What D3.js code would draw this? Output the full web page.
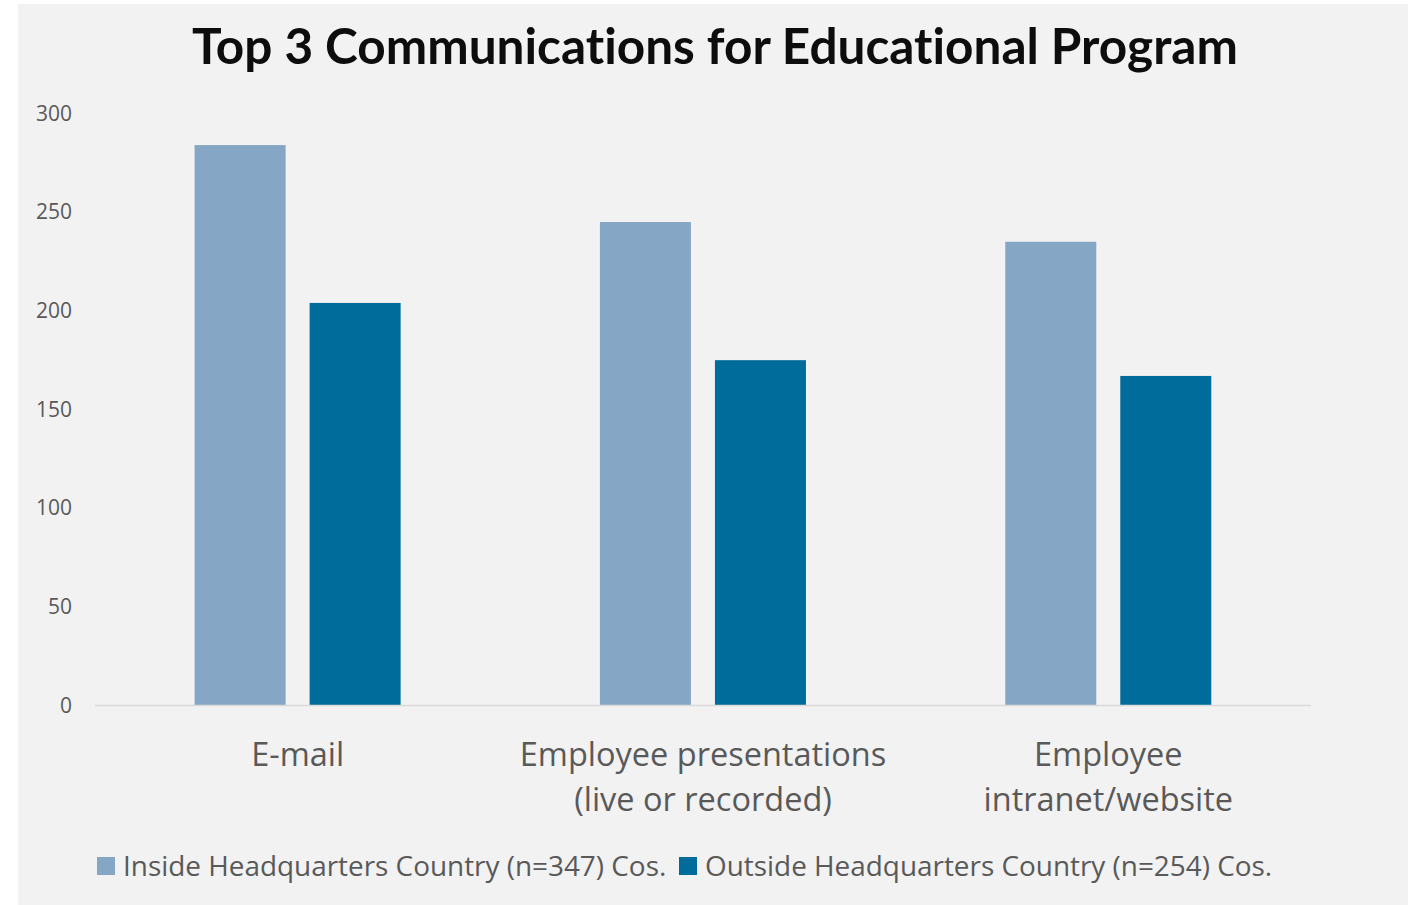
<!DOCTYPE html>
<html>
<head>
<meta charset="utf-8">
<script src="https://cdn.jsdelivr.net/npm/d3@7/dist/d3.min.js"></script>
<style>
  html, body { margin: 0; padding: 0; background: #ffffff; }
  svg { display: block; }
  text { font-variant-ligatures: none; }
</style>
</head>
<body>
<svg id="chart" width="1408" height="905"></svg>
<script>
// Communication channels (category axis), split into display lines
const categories = ["E-mail", "Employee presentations (live or recorded)", "Employee intranet/website"];
const categoryLines = [["E-mail"], ["Employee presentations", "(live or recorded)"], ["Employee", "intranet/website"]];

// Series
const seriesNames = ["Inside Headquarters Country (n=347) Cos.", "Outside Headquarters Country (n=254) Cos."];
const insideValues = [284, 245, 235];
const outsideValues = [204, 175, 167];

// Value axis ticks
const yTicks = [0, 50, 100, 150, 200, 250, 300];

const title = "Top 3 Communications for Educational Program";
const colors = ["#85a7c5", "#006c9b"];

const svg = d3.select("#chart");
const W = 1408, H = 905;

// Chart area panel
svg.append("rect").attr("x", 18).attr("y", 4).attr("width", W - 18).attr("height", H - 4)
  .attr("fill", "#f2f2f2");

const plot = { left: 95, right: 1311, top: 113.5, bottom: 705.5 };

const x0 = d3.scaleBand().domain(categories).range([plot.left, plot.right]).paddingInner(0).paddingOuter(0);
const bw = x0.bandwidth();
const x1 = d3.scaleBand().domain(seriesNames).range([bw * 0.2457, bw * 0.754]).paddingInner(0.2087).paddingOuter(0);
const y = d3.scaleLinear().domain([0, 300]).range([plot.bottom, plot.top]);

const rows = categories.map((c, i) => ({ cat: c, vals: [insideValues[i], outsideValues[i]] }));

// Bars
const groups = svg.append("g").selectAll("g").data(rows).join("g")
  .attr("transform", d => `translate(${x0(d.cat)},0)`);
groups.selectAll("rect")
  .data(d => d.vals.map((v, j) => ({ name: seriesNames[j], v, j })))
  .join("rect")
  .attr("x", d => x1(d.name))
  .attr("width", x1.bandwidth())
  .attr("y", d => y(d.v))
  .attr("height", d => y(0) - y(d.v))
  .attr("fill", d => colors[d.j]);

// Baseline
svg.append("line")
  .attr("x1", plot.left).attr("x2", plot.right)
  .attr("y1", y(0)).attr("y2", y(0))
  .attr("stroke", "#d9d9d9").attr("stroke-width", 1.5);

// Value axis labels
const yAxis = svg.append("g").attr("transform", `translate(${plot.left},0)`)
  .call(d3.axisLeft(y).tickValues(yTicks).tickSize(0).tickPadding(23));
yAxis.select(".domain").remove();
yAxis.selectAll("text")
  .attr("font-family", "'Open Sans', sans-serif")
  .attr("font-size", 21)
  .attr("fill", "#595959");

// Category labels
const catG = svg.append("g");
categoryLines.forEach((lines, i) => {
  const cx = x0(categories[i]) + bw / 2;
  const t = catG.append("text")
    .attr("x", cx).attr("y", 765.5)
    .attr("text-anchor", "middle")
    .attr("font-family", "'Open Sans', sans-serif")
    .attr("font-size", 32.5)
    .attr("fill", "#595959");
  lines.forEach((ln, k) => {
    t.append("tspan").attr("x", cx).attr("y", 765.5 + k * 45).text(ln);
  });
});

// Title
svg.append("text")
  .attr("x", 715).attr("y", 64)
  .attr("text-anchor", "middle")
  .attr("font-family", "Lato, 'Open Sans', sans-serif")
  .attr("font-weight", "bold")
  .attr("font-size", 49.5)
  .attr("fill", "#0d0d0d")
  .text(title);

// Legend
const legendItems = [
  { name: seriesNames[0], sx: 97, tx: 123 },
  { name: seriesNames[1], sx: 679, tx: 705 }
];
const lg = svg.append("g");
legendItems.forEach((d, i) => {
  lg.append("rect").attr("x", d.sx).attr("y", 857).attr("width", 18).attr("height", 18)
    .attr("fill", colors[i]);
  lg.append("text").attr("x", d.tx).attr("y", 876)
    .attr("font-family", "'Open Sans', sans-serif")
    .attr("font-size", 27.9)
    .attr("fill", "#595959")
    .text(d.name);
});
</script>
</body>
</html>
